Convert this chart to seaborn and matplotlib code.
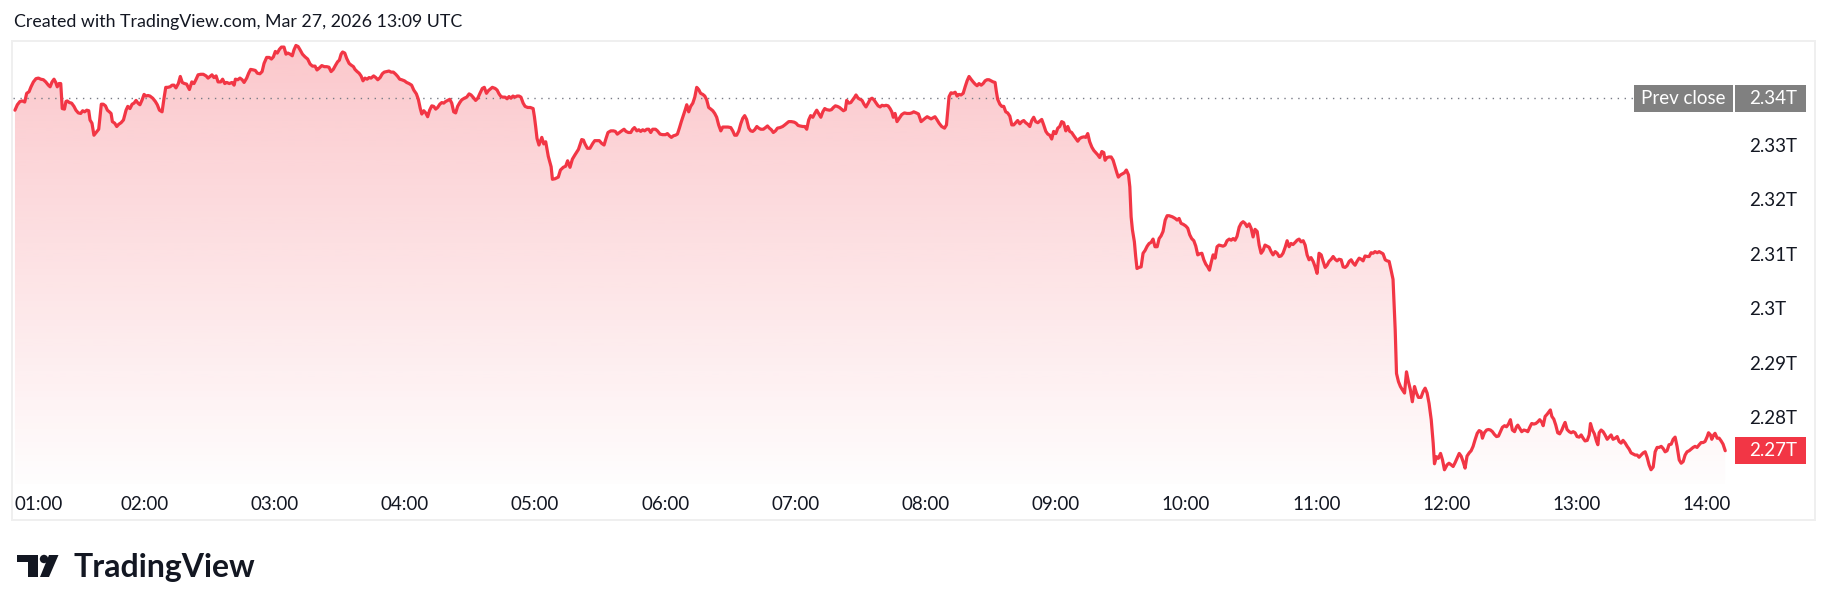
import matplotlib
matplotlib.use("Agg")
import matplotlib.pyplot as plt
import matplotlib.patches as mpatches
import matplotlib.transforms as mtrans
import matplotlib.colors as mcolors
import numpy as np
import pandas as pd
import seaborn as sns

# (minutes after 01:00, value in T)
seg1 = [  # 01:00 - 03:12
    (0.3, 2.3364), (1.4, 2.3374), (2.6, 2.3380), (3.7, 2.3381), (4.8, 2.3379), (5.7, 2.3395),
    (6.8, 2.3398), (7.7, 2.3407), (8.8, 2.3416), (10.0, 2.3422), (11.1, 2.3423), (12.2, 2.3421),
    (13.4, 2.3420), (14.5, 2.3416), (15.7, 2.3410), (16.5, 2.3407), (17.4, 2.3416), (18.3, 2.3421),
    (19.1, 2.3415), (19.8, 2.3407), (20.6, 2.3413), (21.4, 2.3413), (22.1, 2.3367), (23.1, 2.3366),
    (23.8, 2.3380), (24.4, 2.3381), (25.4, 2.3378), (26.4, 2.3377), (27.5, 2.3371), (28.4, 2.3364),
    (29.5, 2.3359), (30.6, 2.3358), (31.5, 2.3363), (32.4, 2.3361), (33.4, 2.3364), (34.3, 2.3363),
    (34.9, 2.3346), (35.8, 2.3340), (36.7, 2.3318), (37.7, 2.3323), (38.9, 2.3329), (39.5, 2.3352),
    (40.1, 2.3375), (41.0, 2.3375), (42.0, 2.3372), (42.9, 2.3364), (43.8, 2.3361), (44.6, 2.3358),
    (45.2, 2.3343), (46.3, 2.3340), (47.2, 2.3334), (48.1, 2.3338), (49.2, 2.3341), (50.3, 2.3346),
    (51.5, 2.3364), (52.3, 2.3371), (53.3, 2.3367), (54.3, 2.3375), (55.2, 2.3377), (56.1, 2.3382),
    (57.0, 2.3377), (57.9, 2.3374), (58.9, 2.3383), (59.8, 2.3393), (60.7, 2.3390), (61.6, 2.3391),
    (62.5, 2.3390), (63.8, 2.3386), (65.0, 2.3380), (65.9, 2.3374), (66.9, 2.3364), (68.1, 2.3361),
    (69.0, 2.3386), (69.8, 2.3406), (70.7, 2.3406), (71.8, 2.3407), (72.7, 2.3410), (73.6, 2.3410),
    (74.5, 2.3405), (75.6, 2.3413), (76.5, 2.3426), (77.4, 2.3415), (78.4, 2.3413), (79.4, 2.3412),
    (80.7, 2.3402), (81.8, 2.3416), (82.8, 2.3413), (83.8, 2.3421), (84.7, 2.3429), (85.9, 2.3430),
    (87.1, 2.3430), (88.4, 2.3427), (89.3, 2.3423), (90.2, 2.3426), (91.1, 2.3429), (92.0, 2.3424),
    (93.0, 2.3427), (93.9, 2.3416), (95.1, 2.3416), (96.0, 2.3421), (97.0, 2.3413), (97.9, 2.3415),
    (99.1, 2.3413), (100.3, 2.3415), (101.3, 2.3410), (101.9, 2.3421), (103.0, 2.3420), (104.0, 2.3423),
    (105.0, 2.3420), (105.9, 2.3415), (107.1, 2.3423), (108.0, 2.3432), (108.9, 2.3439), (110.2, 2.3438),
    (111.1, 2.3437), (112.0, 2.3432), (113.2, 2.3431), (114.2, 2.3435), (115.1, 2.3450), (116.3, 2.3461),
    (117.5, 2.3461), (118.5, 2.3458), (119.4, 2.3462), (120.3, 2.3472), (121.2, 2.3469), (122.2, 2.3476),
    (123.1, 2.3480), (124.3, 2.3480), (125.2, 2.3467), (126.1, 2.3469), (127.1, 2.3467), (128.1, 2.3464),
    (128.9, 2.3475), (129.8, 2.3483), (130.8, 2.3481), (131.7, 2.3475),
]
seg2 = [  # 03:12 - 05:23
    (132.8, 2.3467), (134.0, 2.3462), (135.2, 2.3458), (136.3, 2.3449), (137.4, 2.3445), (138.6, 2.3445),
    (139.5, 2.3438), (140.4, 2.3441), (141.7, 2.3446), (142.9, 2.3444), (144.0, 2.3444), (145.0, 2.3443),
    (146.0, 2.3435), (147.0, 2.3439), (148.1, 2.3447), (149.0, 2.3453), (149.8, 2.3456), (150.6, 2.3467),
    (151.3, 2.3471), (152.3, 2.3469), (153.2, 2.3459), (154.3, 2.3450), (155.2, 2.3447), (156.3, 2.3444),
    (157.0, 2.3439), (158.0, 2.3435), (158.9, 2.3432), (159.8, 2.3427), (160.7, 2.3418), (161.6, 2.3423),
    (162.6, 2.3421), (163.5, 2.3424), (164.4, 2.3423), (165.6, 2.3427), (166.6, 2.3424), (167.5, 2.3420),
    (168.6, 2.3424), (169.6, 2.3431), (170.5, 2.3434), (171.6, 2.3435), (172.7, 2.3436), (173.6, 2.3434),
    (174.7, 2.3434), (175.8, 2.3430), (176.7, 2.3426), (177.6, 2.3421), (178.5, 2.3420), (179.8, 2.3418),
    (180.8, 2.3415), (181.9, 2.3413), (183.1, 2.3410), (184.1, 2.3401), (185.3, 2.3394), (186.2, 2.3384),
    (187.1, 2.3367), (187.8, 2.3357), (188.7, 2.3363), (189.6, 2.3359), (190.5, 2.3352), (191.4, 2.3364),
    (192.4, 2.3372), (193.3, 2.3371), (194.2, 2.3366), (195.1, 2.3369), (196.1, 2.3375), (197.0, 2.3378),
    (197.9, 2.3377), (198.8, 2.3380), (199.7, 2.3382), (200.7, 2.3384), (201.6, 2.3377), (202.5, 2.3361),
    (203.4, 2.3359), (204.3, 2.3371), (205.3, 2.3378), (206.2, 2.3383), (207.4, 2.3386), (208.5, 2.3388),
    (209.6, 2.3394), (210.5, 2.3392), (211.4, 2.3388), (212.6, 2.3382), (213.6, 2.3386), (214.6, 2.3395),
    (215.7, 2.3404), (216.6, 2.3406), (217.6, 2.3395), (218.5, 2.3400), (219.4, 2.3403), (220.3, 2.3406),
    (221.6, 2.3404), (222.5, 2.3401), (223.4, 2.3394), (224.3, 2.3389), (225.2, 2.3388), (226.2, 2.3388),
    (227.1, 2.3385), (228.0, 2.3389), (228.9, 2.3386), (229.8, 2.3390), (230.8, 2.3388), (231.7, 2.3390),
    (232.6, 2.3390), (233.5, 2.3388), (234.5, 2.3377), (235.4, 2.3371), (236.6, 2.3369), (237.8, 2.3369),
    (239.1, 2.3367), (239.7, 2.3352), (240.3, 2.3333), (240.9, 2.3312), (241.8, 2.3300), (243.1, 2.3314),
    (244.0, 2.3302), (244.9, 2.3306), (246.1, 2.3279), (247.4, 2.3260), (248.0, 2.3237), (249.2, 2.3238),
    (250.7, 2.3241), (251.7, 2.3254), (253.0, 2.3259), (254.1, 2.3261), (255.0, 2.3271), (256.1, 2.3259),
    (257.2, 2.3274), (258.4, 2.3282), (260.0, 2.3292), (261.5, 2.3310), (262.3, 2.3309), (263.0, 2.3302),
]
seg3 = [  # 05:24 - 07:43
    (264.1, 2.3294), (265.3, 2.3294), (266.6, 2.3303), (267.5, 2.3308), (268.7, 2.3308), (269.6, 2.3308),
    (270.7, 2.3303), (271.8, 2.3300), (272.7, 2.3312), (273.6, 2.3323), (274.9, 2.3326), (276.1, 2.3326),
    (277.0, 2.3325), (277.9, 2.3320), (278.9, 2.3323), (279.9, 2.3326), (281.0, 2.3329), (281.9, 2.3325),
    (283.0, 2.3323), (284.1, 2.3323), (285.0, 2.3329), (285.8, 2.3332), (286.9, 2.3326), (287.8, 2.3328),
    (288.7, 2.3325), (289.6, 2.3328), (290.5, 2.3326), (291.5, 2.3329), (292.4, 2.3329), (293.3, 2.3323),
    (294.2, 2.3329), (295.5, 2.3329), (296.4, 2.3326), (297.6, 2.3320), (298.8, 2.3319), (300.1, 2.3319),
    (301.0, 2.3321), (301.9, 2.3317), (302.8, 2.3314), (303.8, 2.3317), (304.7, 2.3318), (305.6, 2.3320),
    (306.5, 2.3331), (307.4, 2.3343), (308.4, 2.3355), (309.3, 2.3366), (309.9, 2.3374), (310.8, 2.3361),
    (311.7, 2.3371), (312.7, 2.3377), (313.6, 2.3388), (314.5, 2.3406), (315.4, 2.3402), (316.3, 2.3395),
    (317.3, 2.3393), (318.2, 2.3390), (319.1, 2.3383), (320.0, 2.3369), (321.0, 2.3366), (321.9, 2.3363),
    (322.8, 2.3358), (323.7, 2.3351), (324.6, 2.3337), (325.6, 2.3326), (326.5, 2.3333), (327.7, 2.3333),
    (328.9, 2.3333), (330.2, 2.3332), (331.1, 2.3326), (332.0, 2.3318), (332.9, 2.3318), (333.9, 2.3326),
    (334.8, 2.3339), (335.7, 2.3349), (336.6, 2.3354), (337.5, 2.3347), (338.5, 2.3331), (339.4, 2.3326),
    (340.3, 2.3325), (341.2, 2.3328), (342.2, 2.3334), (343.1, 2.3331), (344.0, 2.3329), (345.2, 2.3329),
    (346.2, 2.3332), (347.1, 2.3335), (348.0, 2.3331), (348.9, 2.3328), (349.8, 2.3323), (350.8, 2.3326),
    (351.7, 2.3331), (352.9, 2.3332), (354.1, 2.3334), (355.1, 2.3337), (356.0, 2.3340), (356.9, 2.3343),
    (358.1, 2.3343), (359.4, 2.3342), (360.3, 2.3340), (361.2, 2.3336), (362.1, 2.3335), (363.4, 2.3334),
    (364.3, 2.3334), (365.2, 2.3329), (366.1, 2.3346), (367.0, 2.3354), (368.0, 2.3351), (368.9, 2.3358),
    (369.8, 2.3364), (370.7, 2.3358), (371.7, 2.3351), (372.6, 2.3361), (373.5, 2.3367), (374.4, 2.3365),
    (375.7, 2.3364), (376.6, 2.3365), (377.5, 2.3369), (378.4, 2.3372), (379.3, 2.3371), (380.3, 2.3369),
    (381.2, 2.3366), (382.1, 2.3363), (383.0, 2.3365), (383.6, 2.3382), (384.6, 2.3377), (385.5, 2.3378),
    (386.4, 2.3383), (387.3, 2.3388), (387.9, 2.3392), (388.9, 2.3386), (389.8, 2.3384), (390.7, 2.3382),
    (391.6, 2.3375), (392.5, 2.3370), (393.5, 2.3377), (394.4, 2.3384), (395.3, 2.3386), (396.2, 2.3383),
    (397.2, 2.3377), (398.1, 2.3372), (399.0, 2.3370), (399.9, 2.3373), (400.8, 2.3372), (401.8, 2.3373),
    (402.7, 2.3372), (403.6, 2.3367),
]
seg4 = [  # 07:44 - 09:52
    (404.4, 2.3361), (405.1, 2.3351), (405.9, 2.3358), (406.8, 2.3343), (407.8, 2.3349), (409.0, 2.3356),
    (410.2, 2.3359), (411.4, 2.3358), (412.7, 2.3358), (413.6, 2.3359), (414.5, 2.3361), (415.7, 2.3359),
    (416.7, 2.3357), (417.9, 2.3343), (418.8, 2.3346), (419.7, 2.3349), (420.7, 2.3352), (421.6, 2.3350),
    (422.5, 2.3348), (423.4, 2.3350), (424.3, 2.3352), (425.3, 2.3346), (426.2, 2.3340), (427.4, 2.3334),
    (428.7, 2.3331), (429.6, 2.3337), (430.2, 2.3364), (430.8, 2.3389), (431.7, 2.3396), (432.6, 2.3395),
    (433.6, 2.3397), (434.5, 2.3390), (435.4, 2.3393), (436.3, 2.3392), (437.3, 2.3395), (438.2, 2.3407),
    (439.1, 2.3418), (440.0, 2.3426), (440.9, 2.3421), (441.9, 2.3416), (442.8, 2.3412), (443.7, 2.3409),
    (444.6, 2.3413), (445.6, 2.3410), (446.5, 2.3413), (447.4, 2.3418), (448.3, 2.3420), (449.2, 2.3420),
    (450.2, 2.3418), (451.1, 2.3416), (452.0, 2.3415), (452.6, 2.3398), (453.2, 2.3384), (454.2, 2.3375),
    (455.1, 2.3371), (456.0, 2.3371), (456.9, 2.3361), (457.8, 2.3359), (458.8, 2.3353), (459.7, 2.3337),
    (460.6, 2.3337), (461.5, 2.3341), (462.4, 2.3345), (463.4, 2.3339), (464.3, 2.3343), (465.2, 2.3345),
    (466.1, 2.3341), (467.1, 2.3338), (468.0, 2.3334), (468.9, 2.3345), (469.8, 2.3351), (470.7, 2.3343),
    (471.7, 2.3341), (472.6, 2.3344), (473.5, 2.3347), (474.4, 2.3337), (475.4, 2.3325), (476.3, 2.3320),
    (477.2, 2.3318), (478.1, 2.3311), (479.0, 2.3325), (480.0, 2.3321), (480.9, 2.3331), (481.8, 2.3334),
    (482.7, 2.3343), (483.6, 2.3341), (484.6, 2.3326), (485.5, 2.3334), (486.4, 2.3325), (487.3, 2.3323),
    (488.3, 2.3317), (489.2, 2.3312), (490.1, 2.3307), (491.0, 2.3312), (491.9, 2.3314), (492.9, 2.3315),
    (493.8, 2.3314), (494.7, 2.3321), (495.6, 2.3306), (496.6, 2.3296), (497.5, 2.3290), (498.4, 2.3286),
    (499.3, 2.3282), (500.2, 2.3277), (501.2, 2.3288), (502.1, 2.3286), (502.7, 2.3272), (503.6, 2.3277),
    (504.5, 2.3278), (505.5, 2.3278), (506.4, 2.3272), (507.3, 2.3260), (508.2, 2.3248), (508.8, 2.3241),
    (509.8, 2.3245), (510.7, 2.3247), (511.6, 2.3249), (512.5, 2.3254), (513.5, 2.3245), (514.1, 2.3223),
    (514.7, 2.3168), (515.3, 2.3144), (516.2, 2.3122), (516.8, 2.3095), (517.4, 2.3073), (518.4, 2.3075),
    (519.3, 2.3076), (520.2, 2.3101), (521.1, 2.3106), (522.1, 2.3114), (523.0, 2.3119), (523.9, 2.3121),
    (524.8, 2.3127), (525.7, 2.3113), (526.7, 2.3113), (527.6, 2.3128), (528.5, 2.3133), (529.4, 2.3141),
    (530.4, 2.3162), (531.3, 2.3170), (532.2, 2.3170),
]
seg5 = [  # 09:53 - 12:01
    (533.7, 2.3168), (535.0, 2.3165), (535.9, 2.3162), (536.8, 2.3165), (537.7, 2.3156), (538.8, 2.3154),
    (539.9, 2.3151), (540.8, 2.3147), (541.7, 2.3135), (542.6, 2.3128), (543.6, 2.3124), (544.5, 2.3114),
    (545.4, 2.3098), (546.3, 2.3100), (547.3, 2.3101), (548.2, 2.3089), (549.1, 2.3081), (550.0, 2.3076),
    (550.8, 2.3070), (551.6, 2.3084), (552.5, 2.3098), (553.4, 2.3092), (554.3, 2.3113), (555.2, 2.3116),
    (556.2, 2.3115), (557.1, 2.3114), (558.0, 2.3116), (558.9, 2.3124), (559.9, 2.3127), (560.8, 2.3125),
    (561.7, 2.3128), (562.6, 2.3125), (563.5, 2.3132), (564.5, 2.3149), (565.4, 2.3156), (566.3, 2.3159),
    (567.2, 2.3156), (568.1, 2.3150), (569.1, 2.3155), (570.0, 2.3147), (570.9, 2.3131), (571.8, 2.3145),
    (572.8, 2.3141), (573.7, 2.3116), (574.6, 2.3101), (575.5, 2.3106), (576.4, 2.3116), (577.4, 2.3114),
    (578.3, 2.3112), (579.2, 2.3104), (580.1, 2.3098), (581.1, 2.3104), (582.0, 2.3101), (582.9, 2.3095),
    (583.8, 2.3096), (584.7, 2.3101), (585.7, 2.3112), (586.6, 2.3124), (587.5, 2.3113), (588.4, 2.3119),
    (589.3, 2.3117), (590.3, 2.3121), (591.2, 2.3125), (592.1, 2.3127), (593.0, 2.3122), (594.0, 2.3124),
    (594.9, 2.3116), (595.8, 2.3098), (596.7, 2.3089), (597.6, 2.3093), (598.6, 2.3086), (599.5, 2.3076),
    (600.4, 2.3064), (601.3, 2.3101), (602.3, 2.3098), (603.2, 2.3086), (604.1, 2.3075), (605.0, 2.3079),
    (605.9, 2.3086), (606.9, 2.3090), (607.8, 2.3095), (608.7, 2.3090), (609.6, 2.3087), (610.5, 2.3090),
    (611.5, 2.3089), (612.4, 2.3076), (613.3, 2.3075), (614.2, 2.3078), (615.2, 2.3086), (616.1, 2.3089),
    (617.0, 2.3083), (617.9, 2.3079), (618.8, 2.3086), (619.8, 2.3092), (620.7, 2.3090), (621.6, 2.3087),
    (622.5, 2.3096), (623.5, 2.3095), (624.4, 2.3095), (625.3, 2.3102), (626.2, 2.3101), (627.1, 2.3104),
    (628.1, 2.3102), (629.0, 2.3104), (629.9, 2.3102), (630.8, 2.3100), (631.8, 2.3089), (632.7, 2.3087),
    (633.6, 2.3086), (634.5, 2.3070), (635.4, 2.3053), (636.4, 2.2960), (637.0, 2.2880), (637.9, 2.2865),
    (638.8, 2.2856), (639.7, 2.2850), (640.7, 2.2844), (641.6, 2.2883), (642.5, 2.2865), (643.4, 2.2850),
    (644.3, 2.2828), (645.3, 2.2856), (646.2, 2.2844), (647.1, 2.2836), (648.3, 2.2836), (649.3, 2.2847),
    (650.2, 2.2853), (651.1, 2.2844), (652.0, 2.2825), (653.0, 2.2795), (653.9, 2.2752), (654.5, 2.2714),
    (655.4, 2.2727), (656.3, 2.2724), (657.3, 2.2733), (658.2, 2.2721), (659.1, 2.2703), (660.3, 2.2712),
    (661.2, 2.2715),
]
seg6 = [  # 12:02 - 14:08
    (662.2, 2.2712), (663.1, 2.2709), (664.0, 2.2716), (664.9, 2.2724), (665.9, 2.2733), (666.8, 2.2728),
    (667.7, 2.2718), (668.6, 2.2706), (669.5, 2.2728), (670.5, 2.2734), (671.4, 2.2738), (672.3, 2.2746),
    (673.2, 2.2758), (674.2, 2.2770), (675.1, 2.2775), (676.0, 2.2773), (676.6, 2.2761), (677.5, 2.2771),
    (678.5, 2.2776), (679.4, 2.2777), (680.3, 2.2776), (681.2, 2.2773), (682.1, 2.2768), (683.1, 2.2764),
    (684.0, 2.2765), (684.9, 2.2773), (685.8, 2.2781), (686.8, 2.2784), (687.7, 2.2782), (688.6, 2.2787),
    (689.5, 2.2795), (690.4, 2.2776), (691.4, 2.2773), (692.3, 2.2782), (692.9, 2.2785), (693.8, 2.2779),
    (694.7, 2.2773), (695.7, 2.2776), (696.6, 2.2775), (697.5, 2.2773), (698.4, 2.2781), (699.3, 2.2788),
    (700.3, 2.2787), (701.2, 2.2788), (702.1, 2.2791), (703.0, 2.2795), (704.0, 2.2790), (704.6, 2.2784),
    (705.5, 2.2801), (706.4, 2.2805), (707.3, 2.2810), (707.9, 2.2813), (708.6, 2.2801), (709.5, 2.2796),
    (710.4, 2.2785), (711.3, 2.2771), (712.2, 2.2769), (713.2, 2.2776), (714.1, 2.2785), (714.7, 2.2790),
    (715.6, 2.2777), (716.6, 2.2773), (717.5, 2.2771), (718.4, 2.2773), (719.3, 2.2771), (720.2, 2.2764),
    (721.2, 2.2763), (722.1, 2.2767), (723.0, 2.2761), (723.9, 2.2756), (724.9, 2.2757), (725.8, 2.2767),
    (726.4, 2.2788), (727.3, 2.2776), (728.2, 2.2769), (729.2, 2.2755), (729.8, 2.2749), (730.4, 2.2771),
    (731.3, 2.2776), (732.2, 2.2773), (733.1, 2.2767), (734.1, 2.2759), (735.0, 2.2763), (735.9, 2.2767),
    (736.8, 2.2759), (737.8, 2.2761), (738.7, 2.2764), (739.6, 2.2755), (740.5, 2.2752), (741.4, 2.2757),
    (742.4, 2.2752), (743.3, 2.2746), (744.2, 2.2741), (745.1, 2.2734), (746.1, 2.2732), (747.0, 2.2730),
    (747.9, 2.2730), (748.8, 2.2726), (749.7, 2.2730), (750.7, 2.2734), (751.6, 2.2736), (752.5, 2.2726),
    (753.4, 2.2712), (754.3, 2.2703), (755.3, 2.2708), (756.2, 2.2736), (757.1, 2.2744), (758.0, 2.2744),
    (759.0, 2.2746), (759.9, 2.2742), (760.8, 2.2736), (761.7, 2.2738), (762.6, 2.2749), (763.6, 2.2750),
    (764.5, 2.2759), (765.4, 2.2763), (766.3, 2.2746), (767.3, 2.2721), (768.2, 2.2715), (769.1, 2.2718),
    (770.0, 2.2730), (770.9, 2.2736), (771.9, 2.2738), (772.8, 2.2741), (773.7, 2.2744), (774.6, 2.2746),
    (775.5, 2.2744), (776.5, 2.2749), (777.4, 2.2753), (778.3, 2.2753), (779.2, 2.2755), (780.2, 2.2764),
    (780.8, 2.2771), (781.7, 2.2767), (782.3, 2.2759), (783.2, 2.2767), (783.8, 2.2770), (784.8, 2.2761),
    (785.7, 2.2761), (786.6, 2.2756), (787.5, 2.2750), (788.5, 2.2738),
]

prev_close = 2.3386
hour_ticks = list(range(0, 781, 60))
hour_labels = ["01:00", "02:00", "03:00", "04:00", "05:00", "06:00", "07:00",
               "08:00", "09:00", "10:00", "11:00", "12:00", "13:00", "14:00"]
# 2.34 sits under the prev-close badge, which carries that label
price_ticks = [2.28, 2.29, 2.30, 2.31, 2.32, 2.33]
title = "Created with TradingView.com, Mar 27, 2026 13:09 UTC"

LINE = "#F23645"
TEXT = "#131722"
GREY = "#808080"

df = pd.DataFrame(seg1 + seg2 + seg3 + seg4 + seg5 + seg6, columns=["minute", "value"])

sns.set_theme(style="white")
plt.rcParams["font.family"] = ["Lato", "DejaVu Sans"]

W, H = 1830, 611
fig = plt.figure(figsize=(W / 100, H / 100), dpi=100)
fig.patch.set_facecolor("white")


def fx(px):
    return px / W


def fy(py):
    return 1 - py / H


# pane: x 13..1735 px, y 41..484 px
ax = fig.add_axes([fx(13), fy(484), fx(1735) - fx(13), fy(41) - fy(484)])
xlim = (-0.6, 793.0)
ylim = (2.26768, 2.34912)
ax.set_xlim(*xlim)
ax.set_ylim(*ylim)
ax.set_facecolor("white")
for s in ax.spines.values():
    s.set_visible(False)

# gradient area under the line
poly = ax.fill_between(df["minute"], df["value"], ylim[0], facecolor="none", lw=0)
grad = np.zeros((256, 1, 4))
grad[..., :3] = mcolors.to_rgb(LINE)
grad[:, 0, 3] = np.linspace(0.28, 0.01, 256)
im = ax.imshow(grad, aspect="auto", extent=[xlim[0], xlim[1], ylim[0], ylim[1]],
               origin="upper", zorder=1, interpolation="bilinear")
im.set_clip_path(poly.get_paths()[0], transform=ax.transData)

ax.axhline(prev_close, color="#787B86", lw=1, ls=(0, (1, 4)), zorder=2)

sns.lineplot(data=df, x="minute", y="value", color=LINE, linewidth=2.3, ax=ax, zorder=3)
ax.set_xlabel("")
ax.set_ylabel("")

ax.set_xticks(hour_ticks)
ax.set_xticklabels(hour_labels)
ax.get_xticklabels()[0].set_horizontalalignment("left")
ax.tick_params(axis="x", length=0, pad=9, labelsize=13.5, colors=TEXT)

ax.yaxis.tick_right()
ax.set_yticks(price_ticks)
ax.set_yticklabels([f"{p:.2f}".rstrip("0") + "T" for p in price_ticks])
ax.tick_params(axis="y", length=0, pad=10, labelsize=13.5, colors=TEXT)
ax.grid(False)

# price labels on the scale
blend = mtrans.blended_transform_factory(ax.transAxes, ax.transData)


def axfrac(px):
    return (px - 13) / (1735 - 13)


half = 13.5 * (ylim[1] - ylim[0]) / (484 - 41)
last = df["value"].iloc[-1]
for x0, x1, v, col, txt, ha, tx in [
    (1634, 1733, prev_close, GREY, "Prev close", "center", 1683.5),
    (1735, 1806, prev_close, GREY, f"{prev_close:.2f}T", "left", 1749),
    (1735, 1806, last, LINE, f"{last:.2f}T", "left", 1749),
]:
    ax.add_patch(mpatches.Rectangle((axfrac(x0), v - half), axfrac(x1) - axfrac(x0), 2 * half,
                                    transform=blend, facecolor=col, edgecolor="none",
                                    clip_on=False, zorder=5))
    ax.text(axfrac(tx), v, txt, transform=blend, ha=ha, va="center", color="white",
            fontsize=13.5, zorder=6, clip_on=False)

# outer pane frame
fig.add_artist(mpatches.Rectangle((fx(12), fy(520)), fx(1815) - fx(12), fy(41) - fy(520),
                                  transform=fig.transFigure, facecolor="none",
                                  edgecolor="#EFEFEF", lw=1.4))

fig.text(fx(14), fy(22), title, ha="left", va="center", fontsize=12.8, color=TEXT)

# watermark logo
logo = "#131722"
fig.add_artist(mpatches.Rectangle((fx(17), fy(562)), fx(38) - fx(17), fy(555) - fy(562),
                                  transform=fig.transFigure, facecolor=logo, edgecolor="none"))
fig.add_artist(mpatches.Rectangle((fx(28), fy(577)), fx(38) - fx(28), fy(555) - fy(577),
                                  transform=fig.transFigure, facecolor=logo, edgecolor="none"))
fig.add_artist(mpatches.Ellipse((fx(44), fy(559)), 8.4 / W, 8.4 / H,
                                transform=fig.transFigure, facecolor=logo, edgecolor="none"))
fig.add_artist(mpatches.Polygon([(fx(49), fy(555)), (fx(58.5), fy(555)), (fx(49), fy(577)), (fx(40), fy(577))],
                                closed=True, transform=fig.transFigure, facecolor=logo, edgecolor="none"))
fig.text(fx(74), fy(577), "TradingView", ha="left", va="baseline", fontsize=23,
         fontweight="bold", color=logo)

fig.savefig("out.png", dpi=100, facecolor="white")
